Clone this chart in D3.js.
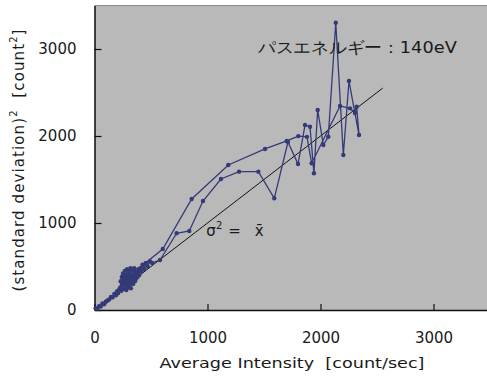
<!DOCTYPE html>
<html>
<head>
<meta charset="utf-8">
<script src="https://cdn.jsdelivr.net/npm/d3@7"></script>
<style>
  body { margin: 0; background: #fff; }
  text { font-family: "DejaVu Sans", sans-serif; fill: #1a1a1a; }
</style>
</head>
<body>
<svg id="chart"></svg>
<script>
// measured intensity vs variance, in order of measurement
var avgIntensity = [10, 25, 40, 55, 70, 85, 100, 115, 130, 145, 160, 175, 190, 200, 210, 220,
                    228, 232, 238, 242, 248, 252, 258, 262, 268, 272, 278, 282, 288, 292, 298, 302, 308, 312, 318, 322,
                    328, 332, 338, 342, 348, 352, 358, 362, 368, 372, 380, 388, 395, 405, 415, 425, 440, 455, 470, 490, 510,
                    580, 727, 839, 960, 1119, 1279, 1450, 1591,
                    1712, 1801, 1863, 1907, 1942, 1975, 2025, 2069, 2135, 2202, 2252, 2341, 2320, 2305, 2261, 2173, 1922, 1880,
                    1804, 1701, 1509, 1184, 860, 604, 429]
var variance = [20, 15, 45, 40, 75, 65, 95, 110, 120, 150, 145, 185, 170, 215, 195, 240,
                260, 330, 220, 380, 290, 420, 240, 360, 450, 280, 400, 230, 470, 330, 260, 440, 380, 300, 480, 250,
                410, 350, 460, 300, 390, 480, 330, 420, 360, 440, 380, 470, 400, 480, 440, 520, 470, 540, 500, 560, 540,
                575, 882, 908, 1253, 1506, 1590, 1590, 1284,
                1931, 1678, 2126, 2107, 1571, 2299, 1897, 1992, 3302, 1782, 2632, 2011, 2337, 2264, 2318, 2345, 1686, 1990,
                1999, 1943, 1851, 1667, 1276, 701, 517]
var poissonLine = [0, 2550]   // sigma^2 = mean
var xTicks = [0, 1000, 2000, 3000]
var yTicks = [0, 1000, 2000, 3000]

var dimensions = {
    width: 487,
    height: 380,
    margin: { top: 5.5, bottom: 70, left: 94.5, right: -3 }
}

var svg = d3.select("#chart")
            .attr("width", dimensions.width)
            .attr("height", dimensions.height)

var xScale = d3.scaleLinear()
               .domain([0, 3500])
               .range([dimensions.margin.left, dimensions.width - dimensions.margin.right])

var yScale = d3.scaleLinear()
               .domain([0, 3500])
               .range([dimensions.height - dimensions.margin.bottom, dimensions.margin.top])

// plot area
svg.append("rect")
   .attr("x", xScale(0))
   .attr("y", yScale(3500))
   .attr("width", xScale(3500) - xScale(0))
   .attr("height", yScale(0) - yScale(3500))
   .attr("fill", "#b9b9b9")
svg.append("line")
   .attr("x1", xScale(0)).attr("x2", xScale(3500))
   .attr("y1", yScale(3500)).attr("y2", yScale(3500))
   .attr("stroke", "#8c8c8c")

// axes
var xAxisGen = d3.axisBottom(xScale).tickValues(xTicks).tickFormat(d3.format("d"))
                 .tickSize(-6).tickSizeOuter(0).tickPadding(22)
var xAxis = svg.append("g")
               .attr("transform", `translate(0,${yScale(0)})`)
               .call(xAxisGen)
var yAxisGen = d3.axisLeft(yScale).tickValues(yTicks).tickFormat(d3.format("d"))
                 .tickSize(-7).tickSizeOuter(0).tickPadding(18)
var yAxis = svg.append("g")
               .attr("transform", `translate(${xScale(0)},0)`)
               .call(yAxisGen)
svg.selectAll(".domain").attr("stroke", "#111").attr("stroke-width", 1.5)
svg.selectAll(".tick line").attr("stroke", "#111").attr("stroke-width", 1.2)
svg.selectAll(".tick text").attr("font-size", 15).attr("font-family", "DejaVu Sans").attr("fill", "#1a1a1a")

// y = x reference
svg.append("line")
   .attr("x1", xScale(poissonLine[0])).attr("y1", yScale(poissonLine[0]))
   .attr("x2", xScale(poissonLine[1])).attr("y2", yScale(poissonLine[1]))
   .attr("stroke", "#111")
   .attr("stroke-width", 1)

// data
var points = d3.zip(avgIntensity, variance)
var lineGen = d3.line().x(d => xScale(d[0])).y(d => yScale(d[1]))
svg.append("path")
   .datum(points)
   .attr("d", lineGen)
   .attr("fill", "none")
   .attr("stroke", "#343a78")
   .attr("stroke-width", 1.3)
svg.append("g")
   .selectAll("circle")
   .data(points)
   .enter()
   .append("circle")
   .attr("cx", d => xScale(d[0]))
   .attr("cy", d => yScale(d[1]))
   .attr("r", 2.2)
   .attr("fill", "#343a78")

// annotations
svg.append("text")
   .attr("x", xScale(1445)).attr("y", yScale(2950))
   .attr("font-family", "Noto Sans CJK JP")
   .attr("font-size", 16)
   .attr("textLength", 199)
   .attr("lengthAdjust", "spacingAndGlyphs")
   .text("パスエネルギー：140eV")

var eq = svg.append("text")
            .attr("x", xScale(990)).attr("y", yScale(845))
            .attr("font-size", 15)
eq.append("tspan").text("σ")
eq.append("tspan").attr("font-size", 10).attr("dy", -7).text("2")
eq.append("tspan").attr("dy", 7).attr("dx", 6).text("=")
eq.append("tspan").attr("dx", 14).text("x\u0304")

// axis titles
svg.append("text")
   .attr("x", 292).attr("y", 368)
   .attr("text-anchor", "middle")
   .attr("font-size", 14)
   .attr("textLength", 265)
   .attr("lengthAdjust", "spacingAndGlyphs")
   .text("Average Intensity\u00a0\u00a0[count/sec]")

var yTitle = svg.append("text")
                .attr("transform", "translate(24,160) rotate(-90)")
                .attr("text-anchor", "middle")
                .attr("font-size", 15)
                .attr("letter-spacing", 1.1)
yTitle.append("tspan").text("(standard deviation)")
yTitle.append("tspan").attr("font-size", 10).attr("dy", -7).text("2")
yTitle.append("tspan").attr("dy", 7).text("\u00a0\u00a0[count")
yTitle.append("tspan").attr("font-size", 10).attr("dy", -7).text("2")
yTitle.append("tspan").attr("dy", 7).text("]")
</script>
</body>
</html>
